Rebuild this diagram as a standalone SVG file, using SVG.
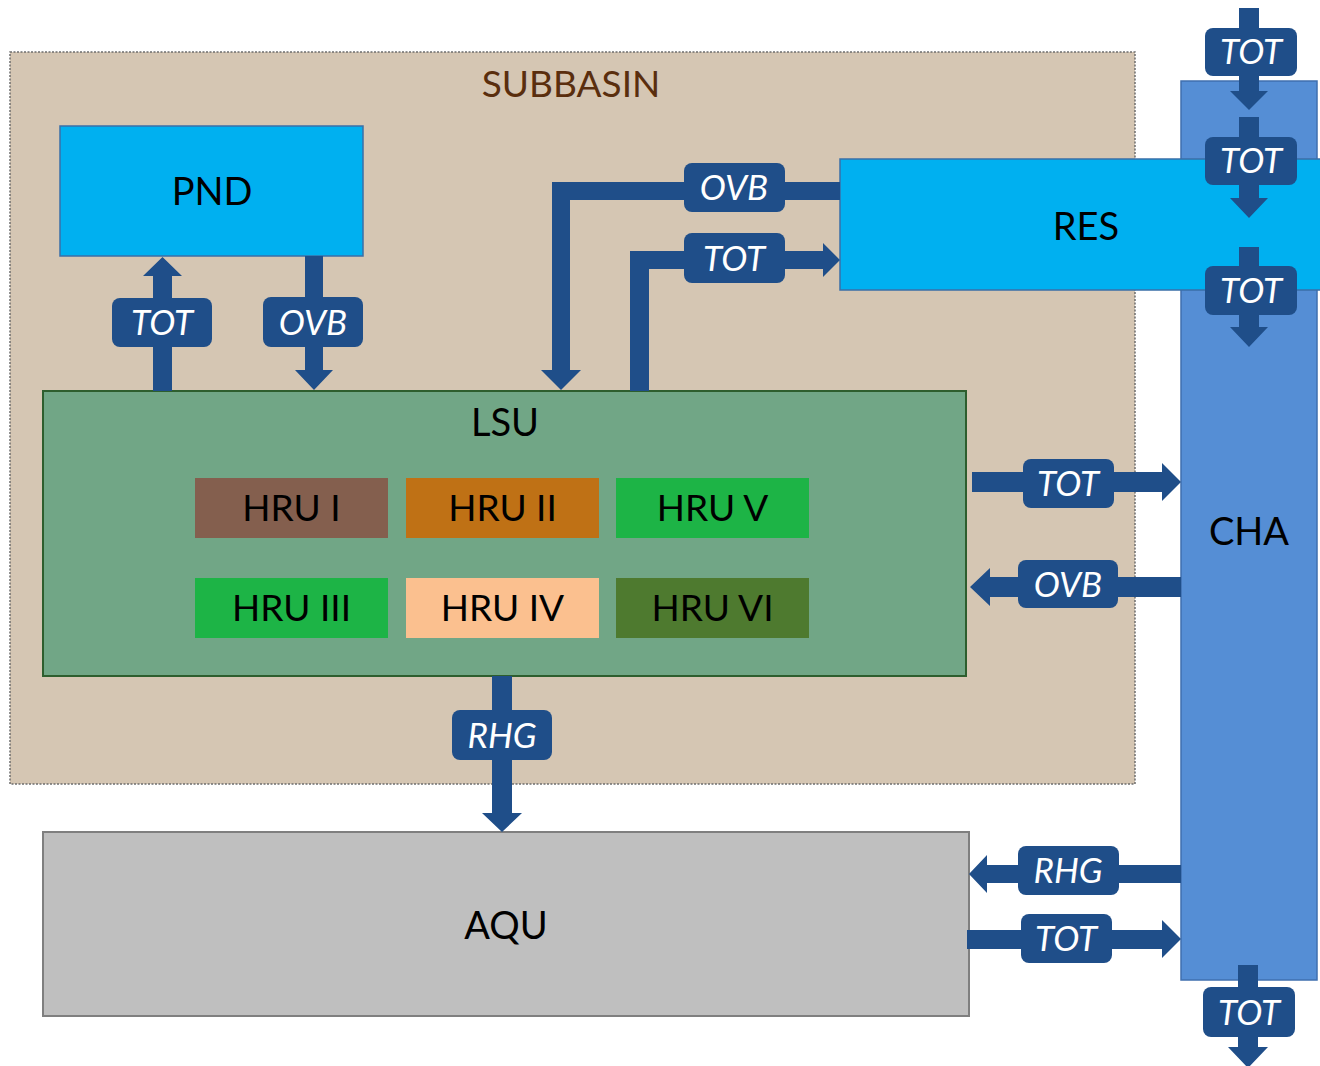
<svg xmlns="http://www.w3.org/2000/svg" width="1320" height="1066" viewBox="0 0 1320 1066">
<style>
.nt{font-family:Lato,"Liberation Sans",sans-serif;font-size:38px;fill:#000;text-anchor:middle}
.ht{font-family:Lato,"Liberation Sans",sans-serif;font-size:37px;fill:#000;text-anchor:middle}
.lb{fill:#1F4E89}
.lt{font-family:Lato,"Liberation Sans",sans-serif;font-style:italic;font-size:35px;fill:#fff;text-anchor:middle}
.ar{fill:#1F4E89}
</style>
<rect width="1320" height="1066" fill="#fff"/>
<g id="subbasin">
<rect x="10" y="52" width="1125" height="732" fill="#D5C6B3" stroke="#6e6e6e" stroke-width="1.5" stroke-dasharray="2,1.5"/>
<text x="571" y="97" style="font-family:Lato,'Liberation Sans',sans-serif;font-size:37px;fill:#5A2E0E;text-anchor:middle">SUBBASIN</text>
</g>
<g id="PND">
<rect x="60" y="126" width="303" height="130" fill="#00B0F0" stroke="#3A6FA8" stroke-width="1.5"/>
<text class="nt" x="212" y="205">PND</text>
</g>
<g id="LSU">
<rect x="43" y="391" width="923" height="285" fill="#71A686" stroke="#2E5E2E" stroke-width="2"/>
<text class="nt" x="505" y="436">LSU</text>
</g>
<g id="HRU_I"><rect x="195" y="478" width="193" height="60" fill="#845F4E"/><text class="ht" x="291.5" y="521">HRU I</text></g>
<g id="HRU_II"><rect x="406" y="478" width="193" height="60" fill="#BF7115"/><text class="ht" x="502.5" y="521">HRU II</text></g>
<g id="HRU_V"><rect x="616" y="478" width="193" height="60" fill="#1DB446"/><text class="ht" x="712.5" y="521">HRU V</text></g>
<g id="HRU_III"><rect x="195" y="578" width="193" height="60" fill="#1DB446"/><text class="ht" x="291.5" y="621">HRU III</text></g>
<g id="HRU_IV"><rect x="406" y="578" width="193" height="60" fill="#FBC08F"/><text class="ht" x="502.5" y="621">HRU IV</text></g>
<g id="HRU_VI"><rect x="616" y="578" width="193" height="60" fill="#4E7A2F"/><text class="ht" x="712.5" y="621">HRU VI</text></g>
<g id="AQU">
<rect x="43" y="832" width="926" height="184" fill="#BFBFBF" stroke="#7F7F7F" stroke-width="2"/>
<text class="nt" x="506" y="939">AQU</text>
</g>
<g id="CHA">
<rect x="1181" y="81" width="136" height="899" fill="#558ED5" stroke="#3F6FAF" stroke-width="1.5"/>
<text class="nt" x="1249" y="545">CHA</text>
</g>
<g id="RES">
<rect x="840" y="159" width="482" height="131" fill="#00B0F0" stroke="#3A6FA8" stroke-width="1.5"/>
<text class="nt" x="1086" y="240">RES</text>
</g>
<g id="connectors">
<path class="ar" d="M1239,8 H1259 V91 H1268 L1249,110 L1230,91 H1239 Z"/>
<path class="ar" d="M1239,117 H1259 V198 H1268 L1249,218 L1230,198 H1239 Z"/>
<path class="ar" d="M1239,247 H1259 V327 H1268 L1249,347 L1230,327 H1239 Z"/>
<path class="ar" d="M1238,965 H1258 V1047 H1268 L1248,1068 L1228,1047 H1238 Z"/>
<path class="ar" d="M153,391 V276 H143 L162.5,257 L182,276 H172 V391 Z"/>
<path class="ar" d="M305,256 H323 V370 H333 L314,390 L295,370 H305 Z"/>
<path class="ar" d="M840,182 V200 H570 V370 H581 L561,390 L541,370 H552 V182 Z"/>
<path class="ar" d="M630,391 V251 H823 V243 L840,260 L823,277 V269 H649 V391 Z"/>
<path class="ar" d="M972,472 H1162 V463 L1181,482 L1162,501 V492 H972 Z"/>
<path class="ar" d="M1181,577 V597 H990 V606 L970,587 L990,568 V577 Z"/>
<path class="ar" d="M492,676 H512 V813 H522 L502,832 L482,813 H492 Z"/>
<path class="ar" d="M1181,865 V883 H987 V893 L969,874 L987,855 V865 Z"/>
<path class="ar" d="M967,930 H1162 V920 L1181,939 L1162,958 V949 H967 Z"/>
<rect class="lb" x="1205" y="28" width="92" height="48" rx="8"/><text class="lt" x="1251" y="64">TOT</text>
<rect class="lb" x="1205" y="137" width="92" height="48" rx="8"/><text class="lt" x="1251" y="173">TOT</text>
<rect class="lb" x="1205" y="266" width="92" height="49" rx="8"/><text class="lt" x="1251" y="303">TOT</text>
<rect class="lb" x="1203" y="987" width="92" height="50" rx="8"/><text class="lt" x="1249" y="1025">TOT</text>
<rect class="lb" x="112" y="298" width="100" height="49" rx="8"/><text class="lt" x="162" y="335">TOT</text>
<rect class="lb" x="263" y="297" width="100" height="50" rx="8"/><text class="lt" x="313" y="335">OVB</text>
<rect class="lb" x="684" y="163" width="101" height="49" rx="8"/><text class="lt" x="734" y="200">OVB</text>
<rect class="lb" x="684" y="233" width="101" height="50" rx="8"/><text class="lt" x="734" y="271">TOT</text>
<rect class="lb" x="1023" y="459" width="91" height="49" rx="8"/><text class="lt" x="1068" y="496">TOT</text>
<rect class="lb" x="1018" y="560" width="100" height="48" rx="8"/><text class="lt" x="1068" y="597">OVB</text>
<rect class="lb" x="452" y="710" width="100" height="50" rx="8"/><text class="lt" x="502" y="748">RHG</text>
<rect class="lb" x="1018" y="846" width="101" height="49" rx="8"/><text class="lt" x="1068" y="883">RHG</text>
<rect class="lb" x="1021" y="914" width="91" height="49" rx="8"/><text class="lt" x="1066" y="951">TOT</text>
</g>
</svg>
